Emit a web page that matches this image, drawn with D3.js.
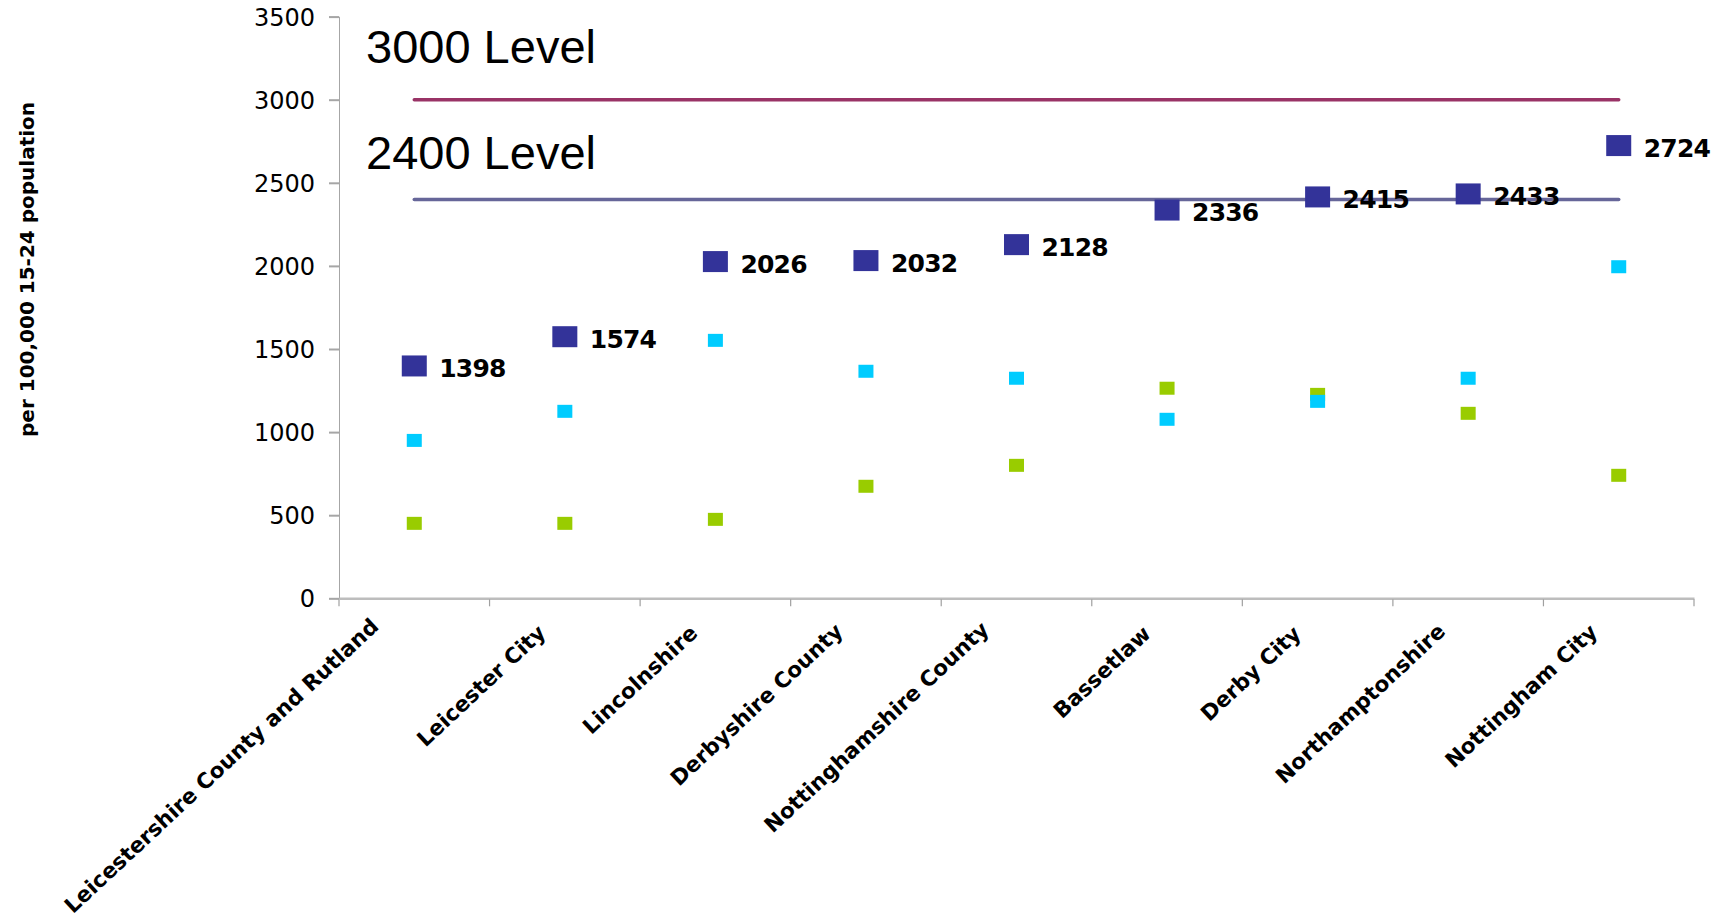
<!DOCTYPE html>
<html>
<head>
<meta charset="utf-8">
<script src="https://cdn.jsdelivr.net/npm/d3@7"></script>
<style>
  html, body { margin: 0; padding: 0; background: #ffffff; }
  svg { display: block; }
</style>
</head>
<body>
<svg id="chart" width="1717" height="917"></svg>
<script>
// ---- data ----
const categories = [
  "Leicestershire County and Rutland",
  "Leicester City",
  "Lincolnshire",
  "Derbyshire County",
  "Nottinghamshire County",
  "Bassetlaw",
  "Derby City",
  "Northamptonshire",
  "Nottingham City"
];
const rateMain  = [1398, 1574, 2026, 2032, 2128, 2336, 2415, 2433, 2724];
const rateCyan  = [950, 1125, 1552, 1366, 1324, 1077, 1185, 1324, 1995];
const rateGreen = [451, 451, 475, 674, 800, 1264, 1227, 1113, 740];
const levelValues = [3000, 2400];
const levelLabels = ["3000 Level", "2400 Level"];
const yTickValues = [0, 500, 1000, 1500, 2000, 2500, 3000, 3500];
const yAxisTitle = "per 100,000 15-24 population";

(function () {
// ---- layout ----
const svg = d3.select("#chart");
const pLeft = 339, pRight = 1694, pTop = 16.6, pBottom = 598.3;

const x = d3.scaleBand().domain(categories).range([pLeft, pRight]).padding(0);
const y = d3.scaleLinear().domain([0, 3500]).range([pBottom, pTop]);
const cx = c => x(c) + x.bandwidth() / 2;

// y axis
const yAxis = d3.axisLeft(y).tickValues(yTickValues).tickSize(10).tickPadding(14).tickFormat(d3.format("d"));
const gy = svg.append("g").attr("transform", `translate(${pLeft},0)`).call(yAxis);
gy.select(".domain").attr("stroke", "#a6a6a6").attr("stroke-width", 1);
gy.selectAll(".tick line").attr("stroke", "#a6a6a6").attr("stroke-width", 2);
gy.selectAll(".tick text")
  .attr("font-family", "DejaVu Sans")
  .attr("font-size", 24)
  .attr("fill", "#000")
  .attr("dy", "0.36em");

// x axis
const xAxis = d3.axisBottom(x).tickSize(0).tickFormat("");
const gx = svg.append("g").attr("transform", `translate(0,${pBottom})`).call(xAxis);
gx.select(".domain").attr("stroke", "#bdbdbd").attr("stroke-width", 2.5);
const boundaries = categories.map(c => x(c)).concat([pRight]);
gx.selectAll("line.bound").data(boundaries).enter().append("line")
  .attr("class", "bound")
  .attr("x1", d => d).attr("x2", d => d)
  .attr("y1", 1).attr("y2", 8)
  .attr("stroke", "#a0a0a0").attr("stroke-width", 1.2);

// category labels (rotated, end anchored near the category centre)
const catFont = 21.5;
const xHeight = 0.547 * catFont;
const angle = 43;
const rad = angle * Math.PI / 180;
svg.append("g").selectAll("text").data(categories).enter().append("text")
  .attr("text-anchor", "end")
  .attr("font-family", "DejaVu Sans")
  .attr("font-weight", "bold")
  .attr("font-size", catFont)
  .attr("fill", "#000")
  .text(d => d)
  .each(function (d) {
    const L = this.getComputedTextLength();
    const cornerX = cx(d) - 15 - 0.065 * L;
    const cornerY = 630 - 0.025 * L;
    const px = cornerX + xHeight * Math.sin(rad);
    const py = cornerY + xHeight * Math.cos(rad);
    d3.select(this).attr("transform", `translate(${px},${py}) rotate(${-angle})`);
  });

// y axis title
svg.append("text")
  .attr("transform", `translate(34,${(pTop + pBottom) / 2 - 38}) rotate(-90)`)
  .attr("text-anchor", "middle")
  .attr("font-family", "DejaVu Sans")
  .attr("font-weight", "bold")
  .attr("font-size", 20)
  .attr("fill", "#000")
  .text(yAxisTitle);

// level lines
const levelColors = ["#993366", "#666699"];
const first = categories[0], last = categories[categories.length - 1];
svg.append("g").selectAll("line").data(levelValues).enter().append("line")
  .attr("x1", cx(first)).attr("x2", cx(last))
  .attr("y1", d => y(d)).attr("y2", d => y(d))
  .attr("stroke", (d, i) => levelColors[i])
  .attr("stroke-width", 3.5)
  .attr("stroke-linecap", "round");

// level labels
const levelLabelOffsets = [36.5, 30];
svg.append("g").selectAll("text").data(levelValues).enter().append("text")
  .attr("x", 366)
  .attr("y", (d, i) => y(d) - levelLabelOffsets[i])
  .attr("font-family", "Liberation Sans, Arial, sans-serif")
  .attr("font-size", 47)
  .attr("fill", "#000")
  .text((d, i) => levelLabels[i]);

// small markers
function smallMarkers(values, color) {
  svg.append("g").selectAll("rect").data(values).enter().append("rect")
    .attr("x", (d, i) => cx(categories[i]) - 7.5)
    .attr("y", d => y(d) - 6.5)
    .attr("width", 15).attr("height", 13)
    .attr("fill", color);
}
smallMarkers(rateGreen, "#99cc00");
smallMarkers(rateCyan, "#00ccff");

// main markers
svg.append("g").selectAll("rect").data(rateMain).enter().append("rect")
  .attr("x", (d, i) => cx(categories[i]) - 12.5)
  .attr("y", d => y(d) - 10.5)
  .attr("width", 25).attr("height", 21)
  .attr("fill", "#333399");

// data labels
svg.append("g").selectAll("text").data(rateMain).enter().append("text")
  .attr("x", (d, i) => cx(categories[i]) + 25)
  .attr("y", d => y(d) + 11)
  .attr("font-family", "DejaVu Sans")
  .attr("font-weight", "bold")
  .attr("font-size", 25)
  .attr("letter-spacing", -0.8)
  .attr("fill", "#000")
  .text(d => d);
})();
</script>
</body>
</html>
